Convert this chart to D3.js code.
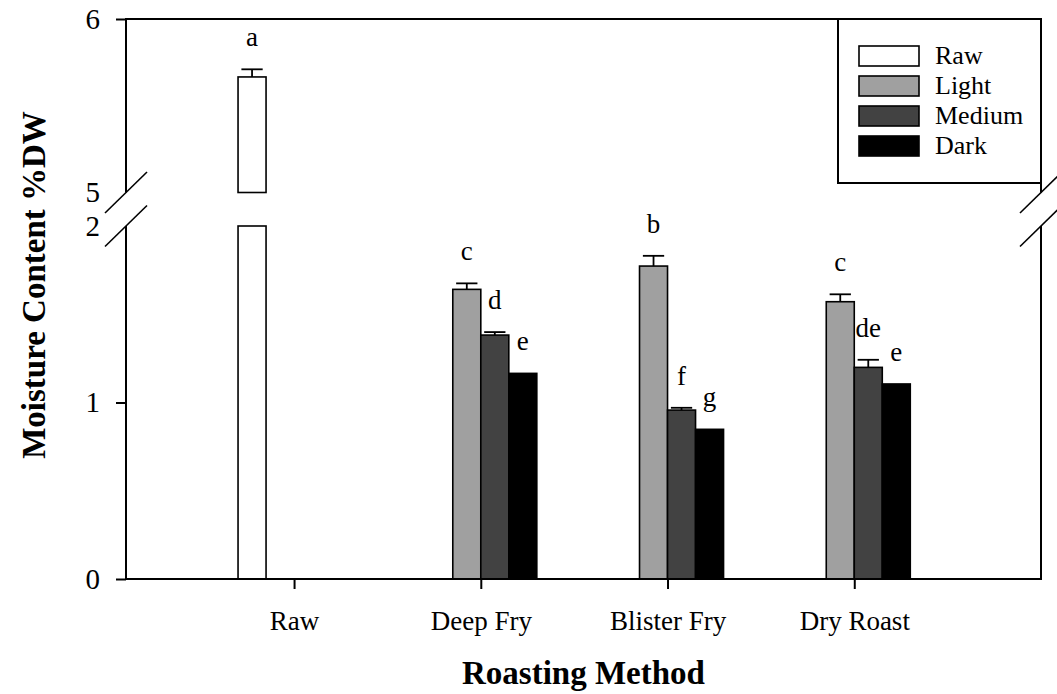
<!DOCTYPE html>
<html>
<head>
<meta charset="utf-8">
<script src="https://cdn.jsdelivr.net/npm/d3@7/dist/d3.min.js"></script>
<style>
  html, body { margin: 0; padding: 0; background: #fff; }
  svg { display: block; }
  text { font-family: "Liberation Serif", "Times New Roman", serif; fill: #000; }
</style>
</head>
<body>
<svg id="chart" width="1057" height="694"></svg>
<script>
// Roasting methods on the x axis
const categories = ["Raw", "Deep Fry", "Blister Fry", "Dry Roast"];
// Roast levels (one bar per level within each method)
const seriesNames = ["Raw", "Light", "Medium", "Dark"];
const seriesColors = ["#ffffff", "#a0a0a0", "#424242", "#000000"];

// Moisture content (%DW), null where a level does not apply
const rawValues    = [5.666, null, null, null];
const lightValues  = [null, 1.641, 1.773, 1.571];
const mediumValues = [null, 1.382, 0.957, 1.199];
const darkValues   = [null, 1.165, 0.848, 1.105];

// Standard errors (upper whisker only)
const rawErrors    = [0.044, null, null, null];
const lightErrors  = [null, 0.034, 0.058, 0.042];
const mediumErrors = [null, 0.017, 0.013, 0.043];
const darkErrors   = [null, 0, 0, 0];

// Significance letters
const rawLetters    = ["a", null, null, null];
const lightLetters  = [null, "c", "b", "c"];
const mediumLetters = [null, "d", "f", "de"];
const darkLetters   = [null, "e", "g", "e"];

// Broken y axis: lower segment 0–2, upper segment 5–6
const lowerSegment = [0, 2];
const upperSegment = [5, 6];
const yTicks = [0, 1, 2, 5, 6];

const values  = [rawValues, lightValues, mediumValues, darkValues];
const errors  = [rawErrors, lightErrors, mediumErrors, darkErrors];
const letters = [rawLetters, lightLetters, mediumLetters, darkLetters];

// ---- layout ----
const plot = { left: 126, right: 1041, top: 19, bottom: 579 };
const breakLowerTop = 226;      // pixel of the top of the lower segment
const breakUpperBottom = 192.5; // pixel of the bottom of the upper segment

const svg = d3.select("#chart");

const y = d3.scaleLinear()
  .domain([lowerSegment[0], lowerSegment[1], upperSegment[0], upperSegment[1]])
  .range([plot.bottom, breakLowerTop, breakUpperBottom, plot.top]);

const x = d3.scaleLinear()
  .domain([-0.9, categories.length])
  .range([plot.left, plot.right]);

const barW = x(0.15) - x(0);

// ---- bars ----
const bars = [];
categories.forEach((cat, i) => {
  seriesNames.forEach((s, j) => {
    const v = values[j][i];
    if (v == null) return;
    bars.push({
      cat: i, series: j, value: v,
      err: errors[j][i] || 0,
      letter: letters[j][i],
      x0: x(i) + (j - 2) * barW
    });
  });
});

const gBars = svg.append("g");
bars.forEach(b => {
  [lowerSegment, upperSegment].forEach(seg => {
    if (b.value <= seg[0]) return;
    const top = Math.min(b.value, seg[1]);
    gBars.append("rect")
      .attr("x", b.x0)
      .attr("y", y(top))
      .attr("width", barW)
      .attr("height", y(seg[0]) - y(top))
      .attr("fill", seriesColors[b.series])
      .attr("stroke", "#000")
      .attr("stroke-width", 1.6);
  });
  // upper error whisker with cap
  if (b.err > 0) {
    const cx = b.x0 + barW / 2;
    const capHalf = barW * 0.38;
    gBars.append("line")
      .attr("x1", cx).attr("x2", cx)
      .attr("y1", y(b.value)).attr("y2", y(b.value + b.err))
      .attr("stroke", "#000").attr("stroke-width", 1.8);
    gBars.append("line")
      .attr("x1", cx - capHalf).attr("x2", cx + capHalf)
      .attr("y1", y(b.value + b.err)).attr("y2", y(b.value + b.err))
      .attr("stroke", "#000").attr("stroke-width", 1.8);
  }
  if (b.letter) {
    svg.append("text")
      .attr("x", b.x0 + barW / 2)
      .attr("y", y(b.value + b.err) - 23)
      .attr("text-anchor", "middle")
      .attr("font-size", 27)
      .text(b.letter);
  }
});

// ---- axes ----
const yAxis = svg.append("g")
  .attr("transform", `translate(${plot.left},0)`)
  .call(d3.axisLeft(y).tickValues(yTicks).tickSize(10).tickPadding(16).tickFormat(d3.format("d")));
yAxis.select(".domain").remove();
yAxis.selectAll(".tick line")
  .attr("stroke-width", 2)
  .filter(d => d === lowerSegment[1] || d === upperSegment[0]).remove();
yAxis.selectAll(".tick text")
  .attr("font-size", 29)
  .attr("font-family", "Liberation Serif, Times New Roman, serif");

const xAxis = svg.append("g")
  .attr("transform", `translate(0,${plot.bottom})`)
  .call(d3.axisBottom(x).tickValues(d3.range(categories.length)).tickSize(10).tickPadding(22)
    .tickFormat(i => categories[i]));
xAxis.select(".domain").remove();
xAxis.selectAll(".tick line").attr("stroke-width", 2);
xAxis.selectAll(".tick text")
  .attr("font-size", 27)
  .attr("font-family", "Liberation Serif, Times New Roman, serif");

// frame: axis segments around the break
const frame = svg.append("g").attr("stroke", "#000").attr("stroke-width", 2).attr("fill", "none");
[plot.left, plot.right].forEach(px => {
  frame.append("line").attr("x1", px).attr("x2", px).attr("y1", plot.top - 1).attr("y2", breakUpperBottom);
  frame.append("line").attr("x1", px).attr("x2", px).attr("y1", breakLowerTop).attr("y2", plot.bottom + 1);
  // break slashes
  [breakUpperBottom, breakLowerTop].forEach(py => {
    frame.append("line")
      .attr("x1", px - 21).attr("y1", py + 20.5)
      .attr("x2", px + 21).attr("y2", py - 20.5)
      .attr("stroke-width", 1.6);
  });
});
frame.append("line").attr("x1", plot.left - 1).attr("x2", plot.right + 1).attr("y1", plot.top).attr("y2", plot.top);
frame.append("line").attr("x1", plot.left - 1).attr("x2", plot.right + 1).attr("y1", plot.bottom).attr("y2", plot.bottom);

// ---- axis titles ----
svg.append("text")
  .attr("x", (plot.left + plot.right) / 2)
  .attr("y", 684)
  .attr("text-anchor", "middle")
  .attr("font-size", 33)
  .attr("font-weight", "bold")
  .text("Roasting Method");

svg.append("text")
  .attr("transform", `translate(45,${(plot.top + plot.bottom) / 2 - 14}) rotate(-90)`)
  .attr("text-anchor", "middle")
  .attr("font-size", 33)
  .attr("font-weight", "bold")
  .text("Moisture Content %DW");

// ---- legend ----
const legend = svg.append("g");
legend.append("rect")
  .attr("x", 838).attr("y", plot.top)
  .attr("width", plot.right - 838).attr("height", 164)
  .attr("fill", "#fff").attr("stroke", "#000").attr("stroke-width", 2);
seriesNames.forEach((s, j) => {
  const row = legend.append("g").attr("transform", `translate(859,${46 + j * 30})`);
  row.append("rect")
    .attr("width", 60).attr("height", 20)
    .attr("fill", seriesColors[j]).attr("stroke", "#000").attr("stroke-width", 1.6);
  row.append("text")
    .attr("x", 76).attr("y", 18)
    .attr("font-size", 26)
    .text(s);
});
</script>
</body>
</html>
